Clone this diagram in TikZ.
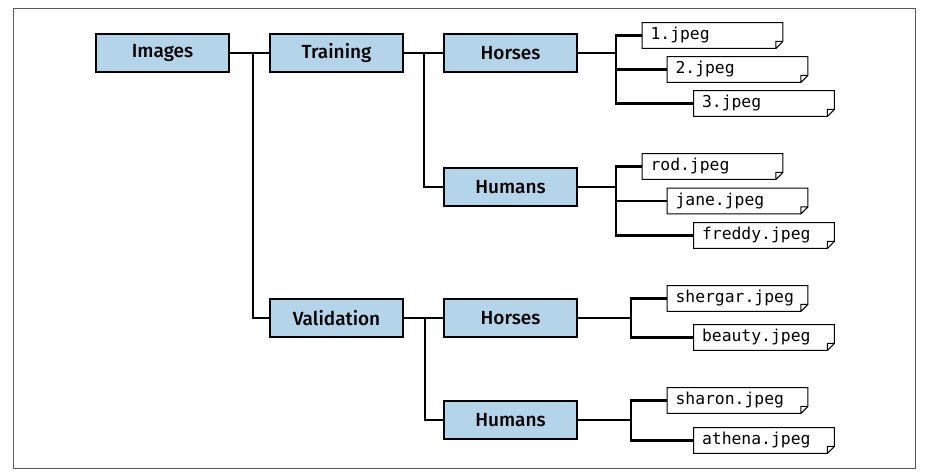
\documentclass[tikz,border=0pt]{standalone}
\usepackage{fontspec}
\setsansfont{Fira Sans}[BoldFont={Fira Sans Medium}]
\setmonofont{DejaVu Sans Mono}
\usepackage{tikz}
\usetikzlibrary{positioning}
\definecolor{folderblue}{RGB}{180,213,233}
\definecolor{framegray}{RGB}{90,90,90}
\tikzset{
  folder/.style={
    draw=black,fill=folderblue,line width=1.2pt,minimum width=66.5pt,
    minimum height=19pt,inner sep=0pt,font=\sffamily\bfseries\fontsize{9.5}{11}\selectfont,
  },
  jpeg/.style={
    inner xsep=4pt,inner ysep=0pt,text width=62pt,minimum height=12.5pt,
    align=left,font=\ttfamily\fontsize{8.2}{10}\selectfont,
  },
  link/.style={line width=1.2pt},
}

\begin{document}
\begin{tikzpicture}
      \useasboundingbox (-81.25pt,26.5pt) rectangle (384.25pt,-211pt);
      \draw[framegray,line width=0.5pt] (-74.25pt,22pt) rectangle (376.25pt,-207.5pt);

      \node[folder] (images) at (0,0) {Images};
      \node[folder,right of=images,node distance=87pt] (training) {Training};
      \node[folder,below of=training,node distance=132.5pt] (validation) {Validation};
      \node[folder,right of=training,node distance=87pt] (trhorses) {Horses};
      \node[folder,below of=trhorses,node distance=67pt] (trhumans) {Humans};
      \node[folder,right of=validation,node distance=87pt] (vahorses) {Horses};
      \node[folder,below of=vahorses,node distance=51pt] (vahumans) {Humans};

      \node[jpeg,right of=trhorses,node distance=101pt,yshift=8.75pt] (one) {1.jpeg};
      \node[jpeg,right of=one,node distance=12.5pt,yshift=-17pt] (two) {2.jpeg};
      \node[jpeg,right of=two,node distance=13.25pt,yshift=-17pt] (three) {3.jpeg};
      \node[jpeg,right of=trhumans,node distance=101pt,yshift=10.25pt] (rod) {rod.jpeg};
      \node[jpeg,right of=rod,node distance=12.5pt,yshift=-17.25pt] (jane) {jane.jpeg};
      \node[jpeg,right of=jane,node distance=13.25pt,yshift=-17.25pt] (freddy) {freddy.jpeg};
      \node[jpeg,right of=vahorses,node distance=113.5pt,yshift=9.75pt] (shergar) {shergar.jpeg};
      \node[jpeg,right of=shergar,node distance=13.25pt,yshift=-19.5pt] (beauty) {beauty.jpeg};
      \node[jpeg,right of=vahumans,node distance=113.5pt,yshift=9.75pt] (sharon) {sharon.jpeg};
      \node[jpeg,right of=sharon,node distance=13.25pt,yshift=-20pt] (athena) {athena.jpeg};

      \foreach \f in {one,two,three,rod,jane,freddy,shergar,beauty,sharon,athena}
        \draw[line width=0.5pt] (\f.north west) -- (\f.north east) -- ([yshift=3.5pt]\f.south east)
          -- ([xshift=-3.5pt]\f.south east) -- (\f.south west) -- cycle
          ([xshift=-3.5pt]\f.south east) |- ([yshift=3.5pt]\f.south east);

      \draw[link] (images) -- (training);
      \draw[link] (images.east) -- ++(11.5pt,0) |- (validation);
      \draw[link] (training) -- (trhorses);
      \draw[link] (training.east) -- ++(10pt,0) |- (trhumans);
      \draw[link] (validation) -- (vahorses);
      \draw[link] (validation.east) -- ++(10.5pt,0) |- (vahumans);

      \draw[link] (trhorses.east) -- ++(19pt,0) coordinate (jh);
      \foreach \f in {one,two,three} \draw[link] (jh) |- (\f);
      \draw[link] (trhumans.east) -- ++(19pt,0) coordinate (jm);
      \foreach \f in {rod,jane,freddy} \draw[link] (jm) |- (\f);
      \draw[link] (vahorses.east) -- ++(26.5pt,0) coordinate (jvh);
      \foreach \f in {shergar,beauty} \draw[link] (jvh) |- (\f);
      \draw[link] (vahumans.east) -- ++(26.5pt,0) coordinate (jvm);
      \foreach \f in {sharon,athena} \draw[link] (jvm) |- (\f);
\end{tikzpicture}
\end{document}
